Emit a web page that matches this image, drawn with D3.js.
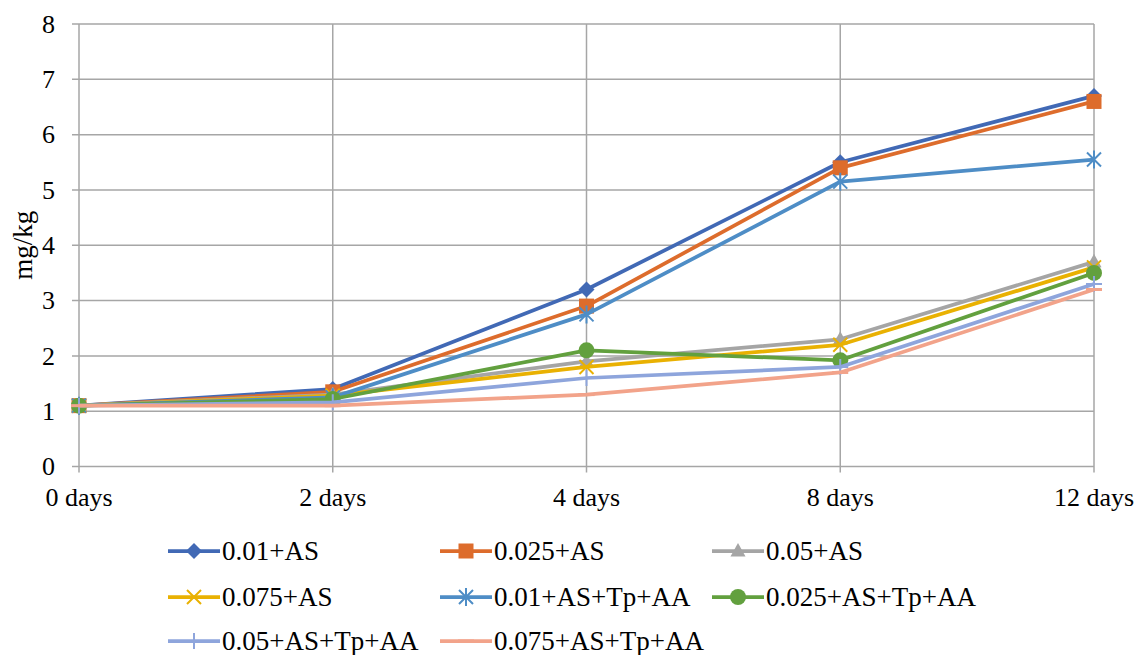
<!DOCTYPE html>
<html>
<head>
<meta charset="utf-8">
<script src="https://cdn.jsdelivr.net/npm/d3@7/dist/d3.min.js"></script>
<style>
  html, body { margin: 0; padding: 0; background: #fff; }
  svg { display: block; }
  text { font-family: "Liberation Serif", "Times New Roman", serif; }
</style>
</head>
<body>
<svg id="chart" width="1144" height="655"></svg>
<script>
// Sampling days along the x axis
const days = ["0 days", "2 days", "4 days", "8 days", "12 days"];
const yTicks = [0, 1, 2, 3, 4, 5, 6, 7, 8];

// Treatment series (mg/kg)
const s001AS      = [1.1, 1.4, 3.2, 5.5, 6.7];
const s0025AS     = [1.1, 1.35, 2.9, 5.4, 6.6];
const s005AS      = [1.1, 1.3, 1.9, 2.3, 3.7];
const s0075AS     = [1.1, 1.28, 1.8, 2.2, 3.6];
const s001ASTpAA  = [1.1, 1.25, 2.75, 5.15, 5.55];
const s0025ASTpAA = [1.1, 1.22, 2.1, 1.92, 3.5];
const s005ASTpAA  = [1.1, 1.16, 1.6, 1.8, 3.3];
const s0075ASTpAA = [1.1, 1.1, 1.3, 1.7, 3.2];

const seriesNames = [
  "0.01+AS", "0.025+AS", "0.05+AS", "0.075+AS",
  "0.01+AS+Tp+AA", "0.025+AS+Tp+AA", "0.05+AS+Tp+AA", "0.075+AS+Tp+AA"
];
const seriesValues = [s001AS, s0025AS, s005AS, s0075AS, s001ASTpAA, s0025ASTpAA, s005ASTpAA, s0075ASTpAA];
const colors = ["#4169B5", "#DD6C2C", "#A5A5A5", "#E9B102", "#4E8DC6", "#62A03E", "#8EA5DC", "#F2A38A"];
const markers = ["diamond", "square", "triangle", "x", "asterisk", "circle", "plus", "dash"];

const svg = d3.select("#chart");
const plotLeft = 79, plotRight = 1094, plotTop = 24, plotBottom = 466.5;

const x = d3.scalePoint().domain(days).range([plotLeft, plotRight]);
const y = d3.scaleLinear().domain([0, 8]).range([plotBottom, plotTop]);

const gridColor = "#A6A6A6";

// Horizontal gridlines, extending left as tick marks
svg.append("g")
  .selectAll("line")
  .data(yTicks)
  .join("line")
  .attr("x1", plotLeft - 7).attr("x2", plotRight)
  .attr("y1", d => y(d)).attr("y2", d => y(d))
  .attr("stroke", gridColor).attr("stroke-width", 1.5);

// Vertical gridlines at each day, extending below as tick marks
svg.append("g")
  .selectAll("line")
  .data(days)
  .join("line")
  .attr("x1", d => x(d)).attr("x2", d => x(d))
  .attr("y1", plotTop).attr("y2", plotBottom + 6)
  .attr("stroke", gridColor).attr("stroke-width", 1.5);

// Y tick labels
svg.append("g")
  .selectAll("text")
  .data(yTicks)
  .join("text")
  .attr("x", 55).attr("y", d => y(d))
  .attr("dy", "0.34em")
  .attr("text-anchor", "end")
  .attr("font-size", 26)
  .attr("fill", "#000")
  .text(d => d);

// X tick labels
svg.append("g")
  .selectAll("text")
  .data(days)
  .join("text")
  .attr("x", d => x(d)).attr("y", 506)
  .attr("text-anchor", "middle")
  .attr("font-size", 26)
  .attr("fill", "#000")
  .text(d => d);

// Y axis title
svg.append("text")
  .attr("transform", `translate(32, ${(plotTop + plotBottom) / 2}) rotate(-90)`)
  .attr("text-anchor", "middle")
  .attr("font-size", 27)
  .attr("fill", "#000")
  .text("mg/kg");

// Marker drawing
function drawMarker(g, type, color, cx, cy) {
  const sw = 2;
  switch (type) {
    case "diamond":
      g.append("path").attr("d", `M${cx},${cy - 8}L${cx + 8},${cy}L${cx},${cy + 8}L${cx - 8},${cy}Z`).attr("fill", color);
      break;
    case "square":
      g.append("rect").attr("x", cx - 7.5).attr("y", cy - 7.5).attr("width", 15).attr("height", 15).attr("fill", color);
      break;
    case "triangle":
      g.append("path").attr("d", `M${cx},${cy - 8}L${cx + 7.5},${cy + 5.5}L${cx - 7.5},${cy + 5.5}Z`).attr("fill", color);
      break;
    case "x":
      g.append("path").attr("d", `M${cx - 7},${cy - 7}L${cx + 7},${cy + 7}M${cx + 7},${cy - 7}L${cx - 7},${cy + 7}`)
        .attr("stroke", color).attr("stroke-width", sw).attr("fill", "none");
      break;
    case "asterisk":
      g.append("path").attr("d", `M${cx - 7},${cy - 7}L${cx + 7},${cy + 7}M${cx + 7},${cy - 7}L${cx - 7},${cy + 7}M${cx},${cy - 9}L${cx},${cy + 9}`)
        .attr("stroke", color).attr("stroke-width", sw).attr("fill", "none");
      break;
    case "circle":
      g.append("circle").attr("cx", cx).attr("cy", cy).attr("r", 8).attr("fill", color);
      break;
    case "plus":
      g.append("path").attr("d", `M${cx - 8},${cy}L${cx + 8},${cy}M${cx},${cy - 8}L${cx},${cy + 8}`)
        .attr("stroke", color).attr("stroke-width", sw).attr("fill", "none");
      break;
    case "dash":
      g.append("path").attr("d", `M${cx - 8},${cy}L${cx + 8},${cy}`)
        .attr("stroke", color).attr("stroke-width", 3).attr("fill", "none");
      break;
  }
}

// Series lines and markers
const line = d3.line().x((d, i) => x(days[i])).y(d => y(d));
seriesValues.forEach((vals, k) => {
  const g = svg.append("g");
  g.append("path")
    .attr("d", line(vals))
    .attr("fill", "none")
    .attr("stroke", colors[k])
    .attr("stroke-width", 3.75)
    .attr("stroke-linejoin", "round");
  vals.forEach((v, i) => drawMarker(g, markers[k], colors[k], x(days[i]), y(v)));
});

// Legend: three columns
const legendX = [168, 440, 712];
const legendY = [551, 597, 641];
seriesNames.forEach((name, k) => {
  const lx = legendX[k % 3], ly = legendY[Math.floor(k / 3)];
  const g = svg.append("g");
  g.append("line").attr("x1", lx).attr("x2", lx + 52).attr("y1", ly).attr("y2", ly)
    .attr("stroke", colors[k]).attr("stroke-width", 3.75);
  drawMarker(g, markers[k], colors[k], lx + 26, ly);
  g.append("text").attr("x", lx + 54).attr("y", ly).attr("dy", "0.34em")
    .attr("font-size", 27).attr("fill", "#000").text(name);
});
</script>
</body>
</html>
